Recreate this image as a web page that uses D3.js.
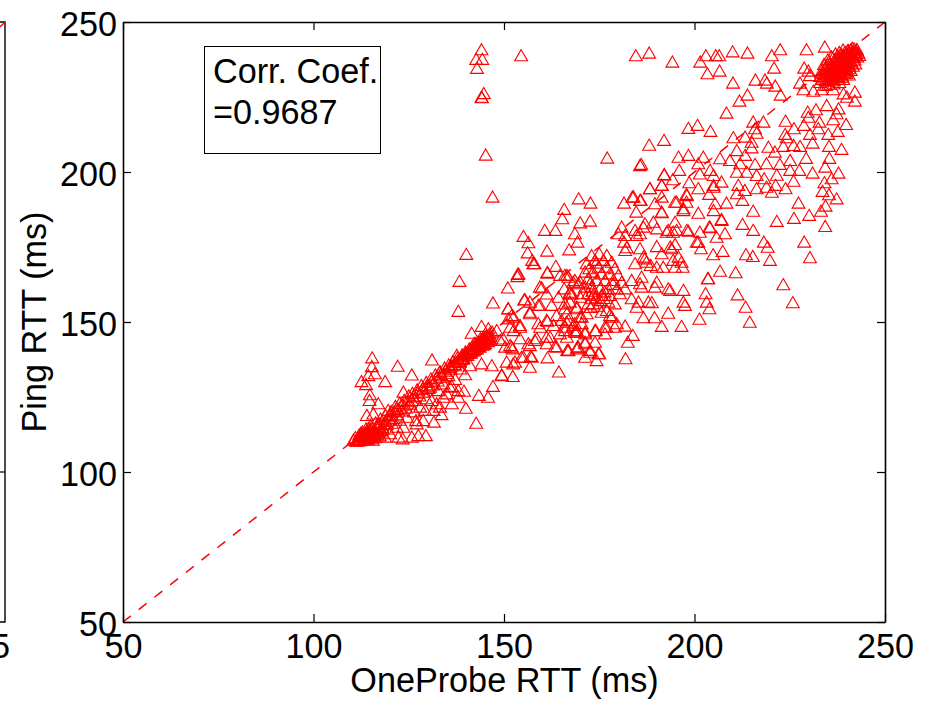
<!DOCTYPE html>
<html>
<head>
<meta charset="utf-8">
<script src="https://cdn.jsdelivr.net/npm/d3@7"></script>
<style>
  html, body { margin: 0; padding: 0; background: #fff; }
  text { font-family: "Liberation Sans", Arial, sans-serif; fill: #000; }
</style>
</head>
<body>
<div id="chart"></div>
<script>
// [OneProbe RTT, Ping RTT]
const outliers = [[144.1,240.9],[142.7,237.7],[144.3,237.7],[142.9,234.7],[144.7,226.3],[144.1,225.1],[144.2,224.9],[145.2,205.8],[147,191.8],[140.1,172.7],[154.5,238.9],[184.6,238.9],[177.1,204.8],[185.7,202.3],[138.3,163.7],[138,153.7],[147.1,156.5],[151,161.5]]
const upperBand = [[169.6,191.2],[172.7,189.8],[165.8,187.7],[165.3,184.6],[181.5,189.8],[183.7,191.8],[184.7,186.8],[170,183.2],[172.6,183.8],[160.7,180.7],[163.5,180.7],[155.1,178.7],[156.4,176.6],[156.2,173.2],[161.3,173.8],[167.1,174.2],[168.6,179.6],[169.3,176.8],[180.9,181.8],[180,179.6],[181.5,176.8],[181.8,174],[182.2,174.9],[181.8,179]]
const topRight = [[188.1,239.8],[194.2,236.8],[201.5,236.8],[203,238.9],[205.6,238.9],[206.5,238.9],[210,240.2],[213.9,239.8],[220.3,238.9],[222.5,240.9],[229.4,240.9],[234.2,241.8],[203.4,232.9],[206.6,233.8],[220.9,234.8],[210.1,229.8],[216,230.8],[218.5,230.8],[219,229.8],[221.2,228.8],[213.9,225.8],[211.8,223.8],[222.6,225.8],[208.4,219.8],[228.8,234.8],[229.9,233.8],[230.3,232.3],[227.7,229.8],[228.6,227.6],[231.2,227.1],[233.4,227.6],[236.4,227.6],[239.1,226.2],[242.1,226.8],[242.1,223.8],[240,225.1],[234.7,222.3],[237.8,221.2],[237.3,219.6],[229.7,220.1],[229.9,218.4],[231.9,220.9],[232.8,216.8],[236.4,217.6],[239.8,216],[237.6,213.7],[235.1,212.7],[232.5,214.6],[228.7,215.7],[223.9,217.1],[226.1,214.6],[218.1,216.8],[215.4,216.8],[215.9,214.6],[216.3,213.1]]
const upperMiddle = [[198.4,214.7],[200.8,215.7],[204.2,213.7],[188.1,209.1],[192,210.7],[210.2,211.6],[213.3,211.8],[215,210.1],[215,208.2],[223.8,212.7],[224.2,211.6],[230.3,212.7],[231,209.8],[227.7,208.7],[226,209],[223.3,208.7],[219.4,208.4],[235.3,208.7],[238.6,207.7],[235.4,204.7],[229.3,204.7],[234.3,201.8],[237.8,199.8],[236,197.9],[231,199.8],[227.5,200.7],[225.1,200.7],[225.1,204],[222.4,202.7],[221.6,199.1],[221.1,206.8],[218.9,202.9],[215.9,202.7],[213.3,205.7],[211.1,207.3],[206.7,204.6],[209.3,204],[212,202.9],[211.1,200.1],[213.7,200.1],[216.3,199],[218.3,197.9],[226,197.1],[234.1,196.6],[233.6,193.7],[235.3,192.6],[237.3,191.2],[223.9,194.6],[221.3,195.7],[220.3,193.4],[218.9,195.1],[216.3,194.6],[213.2,194],[211.5,195.7],[211.1,192.9],[212.6,190.7],[208.4,189.8],[205.4,189.6],[207.1,196.8],[205,199],[202.3,205.1],[201,202.9],[198.4,205.7],[195.8,205.1],[186,202.7],[192,199.2],[196,200.7],[201.4,199.5],[204.1,200.7],[198.6,196.6],[194.3,197.6],[191.4,195.7],[188.3,194.6],[201,194.6],[203.8,192.7],[205,195.7],[197.9,192.7],[194.9,190.1],[191.4,191.8],[189.6,189.6],[185.9,190.7],[184,191.8],[197.1,187.3],[197.9,190.1],[201,186.4],[205,187.3],[207.1,184.3],[204.1,181.6],[201.4,180.1],[198.4,180.4],[195.3,180.7],[191.4,186.6],[189.2,183.4],[186.6,181.8],[184.8,179],[193.1,180.7],[208,179.6],[212.6,182.7],[215.4,180.7],[215.4,187.1],[221.6,183.7],[226.1,184.7],[227.3,189.8],[230.1,185.7],[233.2,187.1],[234.3,182],[234.4,188.8],[185.7,179.6],[184.4,180.7],[187,182.9],[190.1,181.2],[192.7,180.1],[194.9,183.4],[198,180.7],[200.6,176.8],[205.8,178.4],[203.9,181.8],[207.1,184],[205,195.1],[195.3,190.1],[198,192.3],[197.1,187.9],[191.4,186.8],[185.7,190.7],[188.3,194.6],[191.4,195.7],[192.1,199.3],[194.4,180.1],[193.6,175.1],[195.8,171.8],[186.6,171.8],[187.4,170.1]]
const lowerRight = [[185.7,174.6],[190.1,175.3],[187,171.2],[188.5,169],[184.4,169.6],[191.4,172.9],[194,174.6],[194.9,176],[196.6,170.1],[194.4,170.7],[191.8,168.4],[190.1,168.4],[194.9,168.4],[196.9,168.4],[201,176.8],[201.7,174.6],[204.9,172.6],[207.4,173.7],[213.5,172.6],[215.3,172],[218.2,176.8],[219.2,175.1],[219.8,170.7],[228.8,176.8],[230.3,171.6],[206.7,167.1],[210.8,166.6],[203.5,164.6],[203.6,164.6],[197.1,160.7],[193.6,160.7],[193.1,161.2],[202.9,159.6],[203.2,156.8],[197.1,156.8],[197.5,155.7],[203.9,154.6],[211.3,159.2],[213.4,155.1],[214.5,150.1],[223.3,162.6],[225.8,156.6],[193.1,153.1],[189.5,151.6],[186.6,151.6],[191.4,148.7],[196.6,148.7],[201.3,151.1],[188.8,156.6],[187.9,156.8],[185.3,156.8],[184.8,155.1],[183.5,157.9],[186.1,161.8],[189.6,161.8],[183.5,164],[186.1,165.1],[190.1,163.4],[185.7,162.9],[181.8,148.8],[183.8,145.7],[182.5,143.4],[181.9,137.9]]
const centerClump = [[173,172.3],[175,172.9],[177,172.3],[173.9,170.7],[176.1,170.7],[178.3,170.1],[171.7,169.6],[174.8,168.4],[177,168.4],[179.1,167.9],[171.3,166.8],[173.4,166.8],[175.6,166.2],[177.8,166.2],[180,165.7],[172.1,164.6],[174.3,164],[176.5,164],[178.7,164],[180.9,163.4],[171.3,161.8],[173,161.8],[175.2,161.2],[177.4,161.2],[179.6,161.2],[181.8,161.2],[172.1,159.6],[173.4,159],[175.6,159],[177.8,159],[180.4,159.6],[173,157.9],[175.2,157.3],[177.4,156.8],[170,163.4],[168.6,164],[167.3,159.6],[166,165.7],[164.7,165.7],[166.9,165.1],[169.1,155.1],[166,156.2],[170,151.8],[170.4,149.6],[166.9,150.7],[164.7,146.2],[168.6,149.6],[166,148.4],[178.3,151.8],[177,154],[179.6,149.6],[176.9,148.4],[177.8,152.3],[175.6,153.4],[179.1,156.2],[173.4,156.2],[172.1,156.2],[174.1,147.3],[171.3,146.8],[173.9,143.4],[171.3,143.4],[174.8,139.6],[172.6,140.1],[169.5,141.8],[171.3,138.4],[166.6,140.7],[168.6,146.8],[173.2,160.4],[174.1,158.2],[172.6,162.9],[176.4,160.2],[172.8,155],[174.6,155.4],[176.2,158],[178.6,162.7],[174.2,169.8],[172.4,167.9]]
const lowerMiddle = [[157.4,170.7],[158,169.6],[161.4,166.7],[163.6,168.7],[166.5,165.7],[153.8,166.2],[153.5,165.3],[159.9,161.5],[155.3,157.5],[161.2,159.5],[164.3,158.4],[165.8,161.2],[167.8,159.5],[170,158.4],[167.3,156.8],[163.8,152.3],[166.5,152.9],[161.2,150.7],[156.8,156.8],[156.8,153.4],[151.1,154.5],[151.1,151.2],[154.2,148.4],[152.5,151.8],[159,155.7],[163,149],[159.5,148.4],[161.2,145.1],[163.8,141.8],[166.9,140.6],[169.3,141.8],[166.5,145.1],[169.1,147.3],[158.1,144],[156.8,142.3],[154.6,138.4],[157,138.7],[161.4,138.2],[156.8,135.1],[164.4,133.5],[152.3,141.2],[151.6,142.3],[152.9,136.8],[149.4,132.5],[152.3,132],[146.8,135.6],[144.1,136.2],[147.1,128.7],[143.4,125.7],[145.8,125.1],[141.5,146.4],[144.1,148.7],[145.9,147.9],[148.1,147.3],[149.8,144.5],[152.5,147.3],[157.7,169.6],[153.6,166],[161.4,166.4],[168.2,163.4],[159.4,161.8],[167.3,160.1],[169.5,162.9],[170.8,159.6],[155.5,157.6],[151.1,154.6],[152,152.3],[154.2,149],[151.6,148.4],[156.8,152.9],[159.4,155.7],[162.5,155.7],[166,154.6],[169.1,154.6],[165.1,150.7],[161.4,150.4],[159,149.6],[166.4,150.1],[170.4,151.8],[171.7,152.9],[168.2,149],[173.9,147.3],[176.5,148.4],[179.1,148.4],[171.3,146.2],[169.1,146.8],[166,147.3],[162.1,145.1],[158.6,144.6],[156.4,142.9],[154.2,144.6],[150.3,141.8],[152,141.8],[149,144],[155.1,138.4],[157.3,138.4],[163.4,142],[166.9,140.7],[169.1,141.2],[171.3,142.9],[172.6,140.7],[174.3,137.3],[175,139.6],[176.5,146.2],[161.2,142.9],[152.4,136.2],[150.7,136.8],[149.4,132.3]]
const lowerLeft = [[142.7,116.4],[140,121.4],[138,125.1],[139.5,127.1],[136.3,122.9],[136.3,128.7],[133.6,119.3],[132.8,127.3],[134.1,129.5],[131.6,116.8],[129.5,112.3],[127.5,112.3],[125.8,111.8],[123.4,111.2],[126.9,117.3],[123.6,115.1],[129.3,120.7],[131,124],[125.8,132.5],[122.1,135.4],[131.1,137.5],[115.4,138.2],[118.8,130.3],[112.6,130.3],[113.8,129.3],[115.3,135.3],[116.1,132.9],[114.4,132.3],[114.8,125.9],[114.7,124],[117,122.9],[114,119],[115.7,119.5],[119.6,120.7],[121.8,121.2],[123.6,126.8],[133.2,133.4],[135.4,132.3],[138.5,134.5],[141.1,135.6],[137.6,139],[124.5,118.4],[128,121.8],[131.5,120.7],[133.2,121.8],[130.6,128.4],[134.1,125.1],[132.3,122.9],[125.8,124],[121.8,115.1],[120.1,112.9],[117.5,114],[122.3,111.8],[118.8,111.8],[127.1,116.2],[128.8,117.3],[135.8,128.4],[138,127.3],[126.4,120.2],[129.6,124.6],[122.6,117.4],[120.6,116.4],[135,126.2],[137.2,131],[139.8,132.6]]
const diagonalLow = [[110.5,110.8],[111,111.6],[111.5,110.5],[112,112.5],[112.3,111],[112.8,113.5],[113,110.8],[113.4,112],[113.8,114.5],[114.2,111.2],[114.5,113],[115,115.5],[115.2,112],[115.6,110.8],[116,114],[116.3,116.5],[116.7,112.6],[117.2,115.2],[117.6,117.8],[118,113.5],[118.4,116.2],[118.9,119],[119.4,114.5],[120,117.5],[120.4,120.3],[121,118],[121.5,122],[122,119.2],[122.6,123],[123.1,120.5],[123.8,124],[124.3,121.5],[125,125.5],[125.4,122.8],[126,126.4],[126.6,124],[127.2,127.5],[127.8,125.5],[128.3,129],[129,126.8],[129.6,130],[130.2,128],[130.8,131.2],[131.4,129.2],[132,132.5],[132.6,130.5],[133.2,133.6],[133.8,131.8],[134.4,134.8],[135,133],[135.5,135.8],[136,134.4],[136.6,137],[137.2,135.6],[137.8,138.2],[138.4,136.8],[139,139.2],[139.4,138],[139.9,140.2],[140.4,139],[140.9,141.2],[141.3,139.8],[141.7,142],[142.1,140.5],[142.5,142.8],[142.9,141.2],[143.2,143.5],[143.6,141.8],[144,144.2],[144.3,142.4],[144.7,145],[145,143],[145.4,145.6],[145.8,143.6],[146.2,146.2],[146.5,144.2],[146.9,146.8],[112,111.5],[112.6,112.2],[113.2,113],[113.6,111.4],[114,112.6],[114.7,114],[115.4,113.2],[111.8,110.6],[116.2,111.6],[117,113.4],[143,143],[143.8,143.4],[144.6,144],[145.2,144.6],[142,141.4],[141,140.6],[140,139.8],[139,138.6],[138,137.4],[113,112],[114,113.4],[115,114.4],[116,113],[117,116],[118,115],[119,117],[120,118.6],[112.4,113],[113.4,111],[114.6,111.8],[115.8,112.4],[136.2,135.4],[137.4,136.6],[138.6,137.8],[140.2,139.4],[141.6,140.6],[142.6,142],[143.4,142.6],[144.4,143],[145.6,145],[146,145],[143.8,144.6],[142.2,143]]
const denseLow = [[111.2,110.4],[112.2,110.6],[113.2,111.6],[114.2,110.9],[114.9,112.4],[115.3,111.4],[116.1,112.8],[112.9,112.2],[113.7,113.2],[114.4,114.6],[115.6,114.6],[116.6,115],[117.4,112.2],[118.2,114.4],[119.2,116],[120.2,119.2],[121.2,120.2],[122.2,121],[123.4,122.4],[124.6,123.6],[126.2,125.2],[127.4,126.4],[128.6,127.8],[129.8,128.8],[131,130.2],[132.2,131.4],[133.4,132.6],[134.6,133.8],[135.8,135],[137,136],[138.2,137],[139.2,137.8],[140.6,140],[141.4,140.4],[142.4,141],[143.2,142],[144.2,143.4],[145,144.2],[145.4,143.8],[146,144.6],[146.4,145.4],[144.8,142.6],[143.6,143],[142.8,142.2],[141.8,141],[140.8,139.8],[139.6,139],[138.8,138]]
const diagonalHigh = [[234,231.5],[234.8,233],[235,230.5],[235.3,234.5],[235.6,232],[236,235.5],[236,231],[236.4,233.5],[236.7,236.5],[236.9,232.5],[237.2,235],[237.4,237.5],[237.6,233.8],[237.9,231.5],[238,236.2],[238.2,238.2],[238.4,234.5],[238.6,232.5],[238.8,237],[239,239],[239,235.3],[239.3,233.2],[239.5,237.8],[239.6,235.8],[239.8,239.5],[240,234.5],[240.1,236.8],[240.3,238.5],[240.5,240],[240.6,235.5],[240.8,237.5],[241,239.2],[241,240.8],[241.3,236.5],[241.5,238.3],[241.7,240],[241.9,241.2],[242,237.5],[242.2,239.2],[242.4,240.5],[242.7,238.5],[243,239.8],[243.2,239],[234,236],[233.5,234],[233,232],[235,237.5],[236,238.5],[233,230],[234.5,229],[236.5,229.5],[238,230],[239,231],[240.5,232.5],[241,234],[237,239.5],[238,240],[239,240.8],[235.5,236],[237,234],[238,235],[236.2,234.2],[237.3,236.4],[238.5,237.4],[239.4,236.6],[240.4,237.2],[234.6,232.4],[235.8,233.2],[237,232.6],[238.2,233.6],[239.2,234.2],[236.6,230.6],[237.6,231],[238.8,231.8],[235.2,229.4],[239.8,233],[234.2,234.6],[235,235.8],[240.2,240.6],[241.4,241.4],[242.6,241]]
const denseHigh = [[234.4,230.6],[235.4,231.4],[236.2,232.6],[237.1,233.4],[237.8,234.4],[238.7,235.6],[239.4,236],[240.2,236.4],[241,237],[241.8,238.4],[242.3,239.8],[241.2,239.6],[240.6,238.8],[239.7,238.2],[238.9,238.2],[238.1,237.2],[237.5,236],[236.6,235],[235.7,234.2],[234.9,233.8],[234.1,232.8],[236.8,237.6],[237.7,238.6],[238.6,239.2],[239.5,240],[240.4,240.6],[236.4,231.8],[237.4,232],[238.4,232.8],[239.5,234.6],[240.6,234.6],[240,233.6],[241.6,235.4],[242.2,236.2],[235.2,233],[233.8,233],[233.4,231]]

const points = [].concat(outliers, upperBand, topRight, upperMiddle, lowerRight, centerClump, lowerMiddle, lowerLeft, diagonalLow, denseLow, diagonalHigh, denseHigh)

const xTicks = [50, 100, 150, 200, 250]
const yTicks = [50, 100, 150, 200, 250]
const xLabel = 'OneProbe RTT (ms)'
const yLabel = 'Ping RTT (ms)'
const noteLines = ['Corr. Coef.', '=0.9687']
const diagonal = [50, 250]
const neighbourTicks = [100]

const outerWidth = 931
const outerHeight = 701
const margin = { top: 22, right: 46, bottom: 79, left: 123 }
const width = outerWidth - margin.left - margin.right
const height = outerHeight - margin.top - margin.bottom
const fontSize = 34.2

const raw = d3.select('#chart')
  .append('svg')
  .attr('width', outerWidth)
  .attr('height', outerHeight)
  .style('display', 'block')
const svg = raw.append('g')
  .attr('transform', `translate(${margin.left},${margin.top})`)

const xs = d3.scaleLinear().domain([50, 250]).range([0, width])
const ys = d3.scaleLinear().domain([50, 250]).range([height, 0])

// dashed y = x line
svg.append('path')
  .attr('d', d3.line().x((d) => xs(d)).y((d) => ys(d))(diagonal))
  .attr('stroke', '#f00')
  .attr('stroke-width', 1.5)
  .attr('stroke-dasharray', '10 10')
  .attr('fill', 'none')

// triangle markers, shifted so the data point sits mid-height
const triangle = d3.symbol().type(d3.symbolTriangle).size(72)()
svg.selectAll('.marker')
  .data(points)
  .enter()
  .append('path')
  .classed('marker', true)
  .attr('d', triangle)
  .attr('transform', (d) => `translate(${xs(d[0])},${ys(d[1]) + 1.8})`)
  .attr('fill', 'none')
  .attr('stroke', '#f00')
  .attr('stroke-width', 1.1)

// axes, ticks pointing inward on all four sides
const styleAxis = (g) => {
  g.selectAll('.tick line').attr('stroke', '#000').attr('stroke-width', 1.2)
  g.select('.domain').attr('stroke', '#000').attr('stroke-width', 1.6)
  g.selectAll('text').style('font-size', fontSize + 'px').style('font-family', '"Liberation Sans", Arial, sans-serif')
}
svg.append('g')
  .attr('transform', `translate(0,${height})`)
  .call(d3.axisBottom(xs).tickValues(xTicks).tickSizeInner(-8).tickSizeOuter(0).tickPadding(12))
  .call(styleAxis)
svg.append('g')
  .call(d3.axisLeft(ys).tickValues(yTicks).tickSizeInner(-8).tickSizeOuter(0).tickPadding(6))
  .call(styleAxis)
  .selectAll('text').attr('dy', '0.38em')
svg.append('g')
  .call(d3.axisTop(xs).tickValues(xTicks).tickSizeInner(-8).tickSizeOuter(0).tickFormat(''))
  .call(styleAxis)
svg.append('g')
  .attr('transform', `translate(${width},0)`)
  .call(d3.axisRight(ys).tickValues(yTicks).tickSizeInner(-8).tickSizeOuter(0).tickFormat(''))
  .call(styleAxis)

// axis labels
svg.append('text')
  .attr('x', width / 2 + 0.5)
  .attr('y', height + 70)
  .attr('text-anchor', 'middle')
  .style('font-size', fontSize + 'px')
  .text(xLabel)
svg.append('text')
  .attr('transform', 'rotate(-90)')
  .attr('x', -(height / 2))
  .attr('y', -77)
  .attr('text-anchor', 'middle')
  .style('font-size', fontSize + 'px')
  .text(yLabel)

// correlation box
raw.append('rect')
  .attr('x', 204.5)
  .attr('y', 46.5)
  .attr('width', 176)
  .attr('height', 107)
  .attr('fill', '#fff')
  .attr('stroke', '#000')
  .attr('stroke-width', 1)
raw.selectAll('.note')
  .data(noteLines)
  .enter()
  .append('text')
  .classed('note', true)
  .attr('x', 213)
  .attr('y', (d, i) => 83 + i * 41)
  .style('font-size', fontSize + 'px')
  .text((d) => d)

// edge of the neighbouring panel, cut off by the page
raw.append('path')
  .attr('d', `M0,${margin.top}H5V${margin.top + height}H0`)
  .attr('stroke', '#000')
  .attr('stroke-width', 1.4)
  .attr('fill', 'none')
raw.selectAll('.neighbour-tick')
  .data(neighbourTicks)
  .enter()
  .append('path')
  .classed('neighbour-tick', true)
  .attr('d', (d) => `M0,${margin.top + ys(d)}H5`)
  .attr('stroke', '#000')
  .attr('stroke-width', 1.2)
raw.append('path')
  .attr('d', 'M0,27L5,22')
  .attr('stroke', '#f00')
  .attr('stroke-width', 1.5)
raw.append('text')
  .attr('x', 10)
  .attr('y', 658)
  .attr('text-anchor', 'end')
  .style('font-size', fontSize + 'px')
  .text('5')
</script>
</body>
</html>
